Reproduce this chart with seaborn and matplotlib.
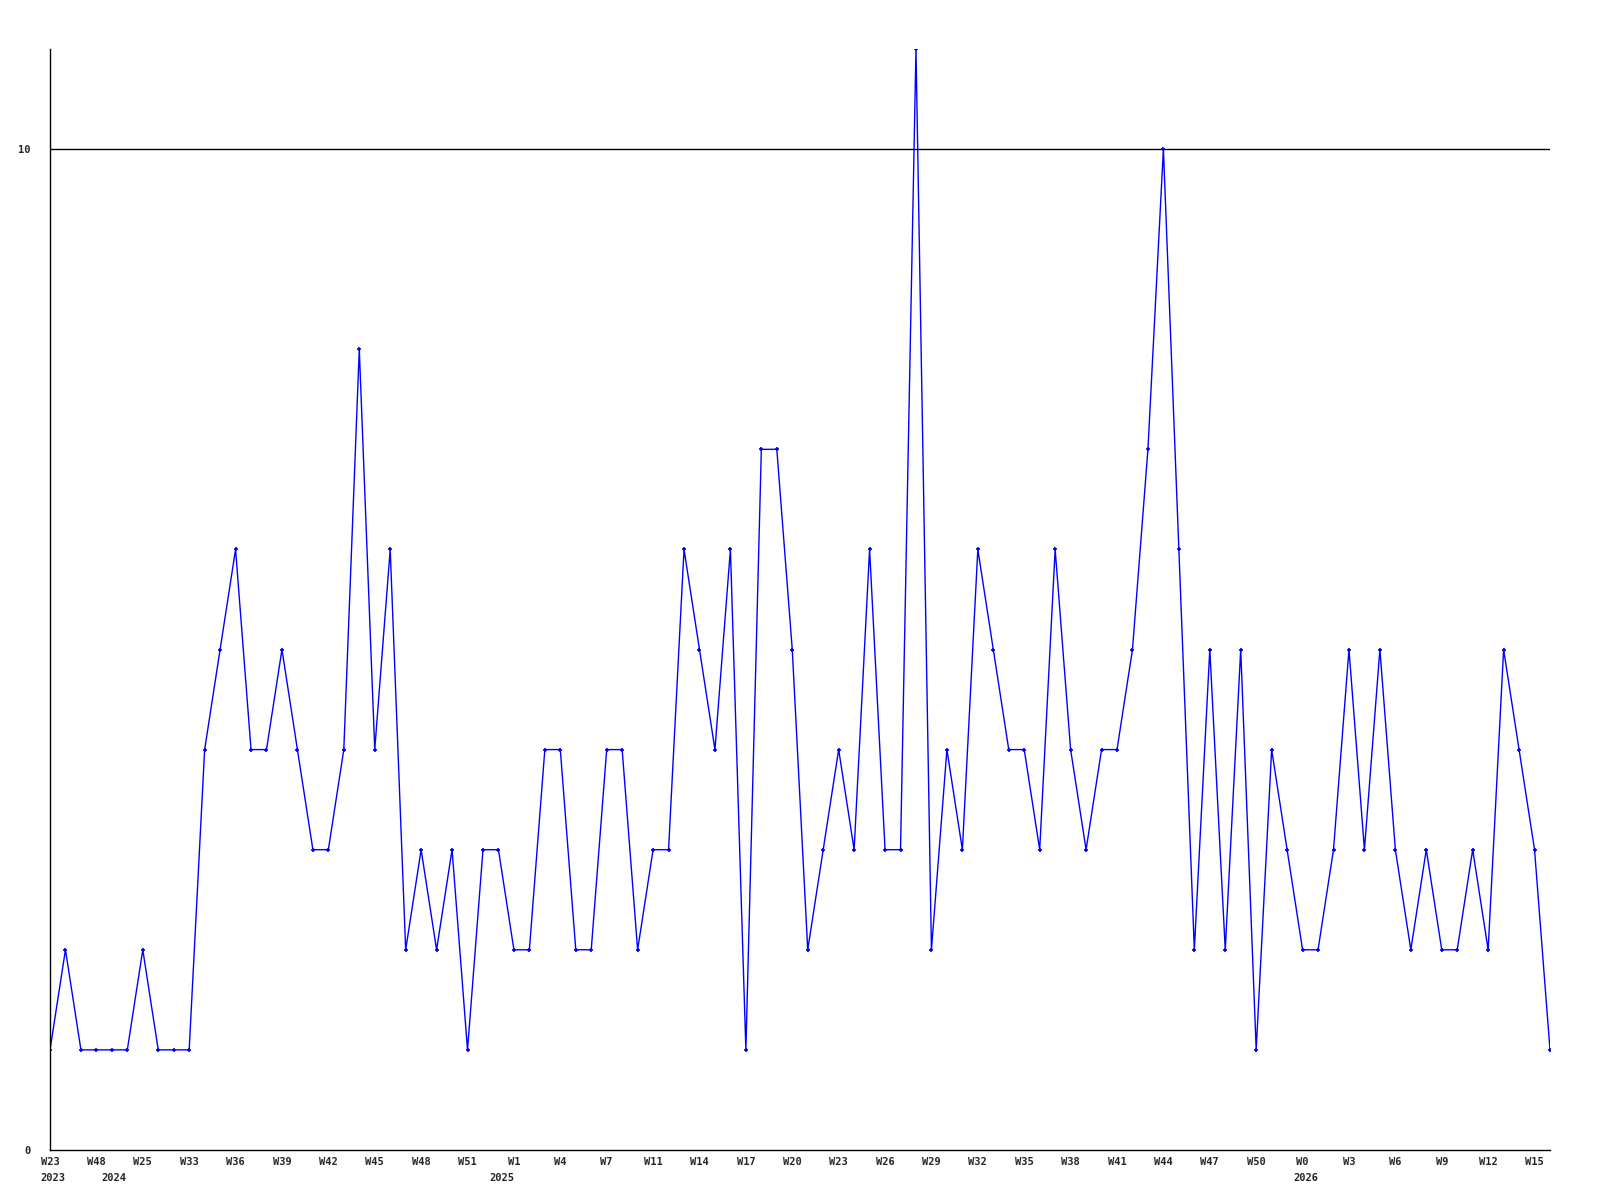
import numpy as np
import pandas as pd
import matplotlib
matplotlib.use("Agg")
import matplotlib.pyplot as plt
import seaborn as sns

# weekly counts
counts = [1, 2, 1, 1, 1, 1, 2, 1, 1, 1,
          4, 5, 6, 4, 4, 5, 4, 3, 3, 4,
          8, 4, 6, 2, 3, 2, 3, 1, 3, 3,
          2, 2, 4, 4, 2, 2, 4, 4, 2, 3,
          3, 6, 5, 4, 6, 1, 7, 7, 5, 2,
          3, 4, 3, 6, 3, 3, 11, 2, 4, 3,
          6, 5, 4, 4, 3, 6, 4, 3, 4, 4,
          5, 7, 10, 6, 2, 5, 2, 5, 1, 4,
          3, 2, 2, 3, 5, 3, 5, 3, 2, 3,
          2, 2, 3, 2, 5, 4, 3, 1]

week_labels = ["W23", "W48", "W25", "W33", "W36", "W39", "W42", "W45", "W48",
               "W51", "W1", "W4", "W7", "W11", "W14", "W17", "W20", "W23",
               "W26", "W29", "W32", "W35", "W38", "W41", "W44", "W47", "W50",
               "W0", "W3", "W6", "W9", "W12", "W15"]
year_labels = ["2023", "2024", "2025", "2026"]
year_pos = [0.2, 4.1, 29.2, 81.2]

df = pd.DataFrame({"idx": np.arange(len(counts)), "count": counts})

sns.set_style("white")
plt.rcParams['font.family'] = ['DejaVu Sans Mono']

fig = plt.figure(figsize=(16, 12), dpi=100)
ax = fig.add_axes([0.03125, 0.0417, 0.9375, 0.9175])

sns.lineplot(data=df, x="idx", y="count", ax=ax, color="#0000ff",
             linewidth=1, marker="+", markersize=3, markeredgewidth=1.2,
             markeredgecolor="#0000ff")

ax.axhline(10, color="black", linewidth=1, zorder=0)

ax.set_xlim(0, len(counts) - 1)
ax.set_ylim(0, 11)
ax.set_xlabel("")
ax.set_ylabel("")

ax.set_yticks([0, 10])
ax.set_yticklabels(["0", "10"], fontsize=7.5, fontweight="bold")
ax.set_xticks(np.arange(0, len(counts), 3))
ax.set_xticklabels(week_labels, fontsize=7.5, fontweight="bold")
ax.tick_params(axis="both", length=0)
ax.tick_params(axis="x", pad=5)
ax.tick_params(axis="y", pad=14)

for s in ["top", "right"]:
    ax.spines[s].set_visible(False)
for s in ["left", "bottom"]:
    ax.spines[s].set_color("black")
    ax.spines[s].set_linewidth(1)

for lab, xp in zip(year_labels, year_pos):
    ax.text(xp, -0.28, lab, fontsize=7.5, fontweight="bold", ha="center",
            va="center", clip_on=False)

fig.savefig("out.png", dpi=100)
